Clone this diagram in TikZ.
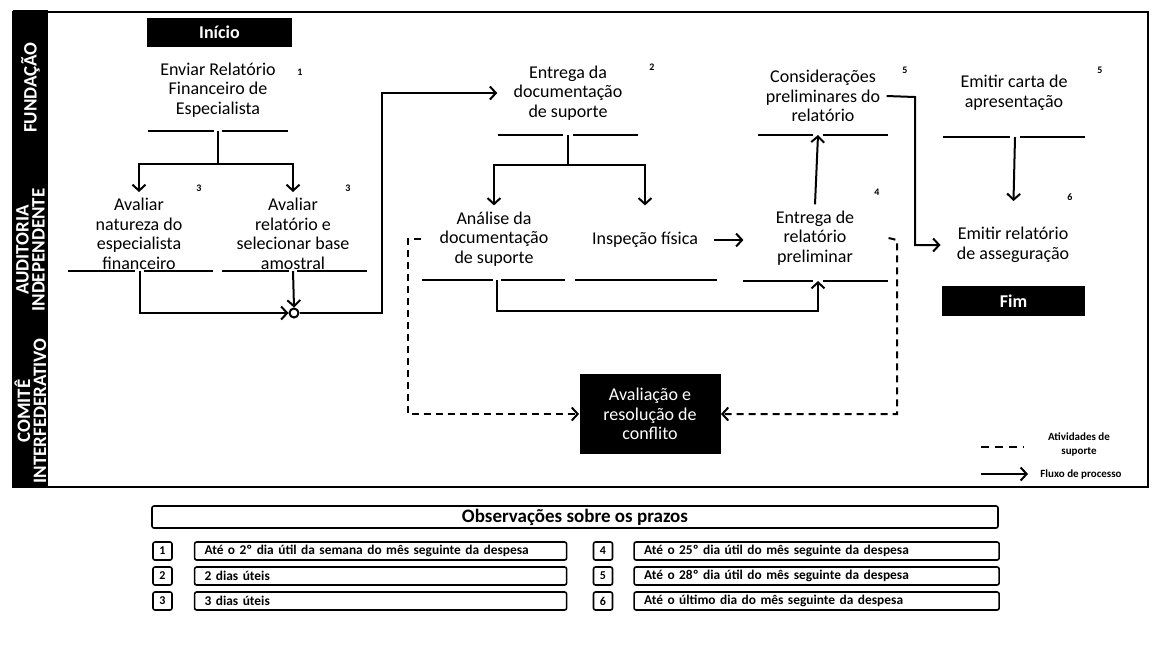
\documentclass[tikz,border=0pt]{standalone}
\usepackage{fontspec}
\setmainfont{Carlito}
\usetikzlibrary{arrows.meta,positioning}

\tikzset{
  >={Straight Barb[length=3pt,width=6.5pt]},
  task/.style={align=center, inner sep=3pt, font=\fontsize{9}{9.75}\selectfont},
  term/.style={fill=black, text=white, inner sep=0pt, font=\fontsize{9}{9.75}\selectfont\bfseries},
  lane/.style={rotate=90, fill=black, text=white, align=center, inner sep=0pt,
    minimum height=17.5pt, font=\fontsize{9.5}{8}\selectfont\bfseries},
  rule/.style={line width=1.2pt},
  flow/.style={line width=1pt, ->},
  supp/.style={line width=1pt, ->, dash pattern=on 3.5pt off 2.5pt},
  numtag/.style={inner sep=0pt, font=\fontsize{5}{5}\selectfont\bfseries},
  cell/.style={draw, line width=0.8pt, rounded corners=1pt, inner sep=0pt,
    minimum height=9pt, font=\fontsize{6.7}{7}\selectfont\bfseries},
  legtext/.style={align=center, inner sep=0pt, font=\fontsize{5.5}{7}\selectfont\bfseries}
}

\begin{document}
\begin{tikzpicture}[x=0.5pt,y=-0.5pt]
    \useasboundingbox (0,0) rectangle (1155,650);

    % frame and lanes
    \draw[line width=1.2pt] (13,12) rectangle (1148,487);
    \node[lane, minimum width=77.5pt] (fund) at (30.5,87.5) {FUNDAÇÃO};
    \node[lane, minimum width=85pt] (audit) at (30.5,250) {AUDITORIA\\INDEPENDENTE};
    \node[lane, minimum width=76pt] (comite) at (30.5,411) {COMITÊ\\INTERFEDERATIVO};

    % activities
    \node[term, minimum width=72.5pt, minimum height=14.5pt] (inicio) at (219.5,32.5) {Início};
    \node[task] (enviar) at (218,90) {Enviar Relatório\\Financeiro de\\Especialista};
    \node[task] (natureza) at (139,234) {Avaliar\\natureza do\\especialista\\financeiro};
    \node[task] (amostra) at (293,234) {Avaliar\\relatório e\\selecionar base\\amostral};
    \node[task] (entrega) at (568,93) {Entrega da\\documentação\\de suporte};
    \node[task] (analise) at (494,239) {Análise da\\documentação\\de suporte};
    \node[task] (inspecao) at (645,240) {Inspeção física};
    \node[task] (prelim) at (815,238) {Entrega de\\relatório\\preliminar};
    \node[task] (consid) at (823,96) {Considerações\\preliminares do\\relatório};
    \node[task] (carta) at (1014,93) {Emitir carta de\\apresentação};
    \node[task] (asseg) at (1013,245) {Emitir relatório\\de asseguração};
    \node[term, minimum width=71.5pt, minimum height=15pt] (fim) at (1013.5,301) {Fim};
    \node[term, minimum width=70.5pt, minimum height=40pt, align=center,
      font=\fontsize{9}{9.75}\selectfont] (aval) at (650,414) {Avaliação e\\resolução de\\conflito};

    % deadline marks
    \node[numtag] (t1) at (300,72) {1};
    \node[numtag] (t3a) at (199,188) {3};
    \node[numtag] (t3b) at (348,188) {3};
    \node[numtag] (t2) at (652,67) {2};
    \node[numtag] (t4) at (877,192) {4};
    \node[numtag] (t5a) at (905,70) {5};
    \node[numtag] (t5b) at (1100,70) {5};
    \node[numtag] (t6) at (1070,197) {6};

    % rules under the activities
    \draw[rule] (148,131) -- (214,131) (222,131) -- (288,131);
    \draw[rule] (68,271) -- (135,271) (144,271) -- (213,271);
    \draw[rule] (222,271) -- (289,271) (297,271) -- (367,271);
    \draw[rule] (498,135) -- (563,135) (573,135) -- (638,135);
    \draw[rule] (422,280) -- (493,280) (501,280) -- (565,280);
    \draw[rule] (575,280) -- (717,280);
    \draw[rule] (743,281) -- (813,281) (823,281) -- (888,281);
    \draw[rule] (758,135) -- (813,135) (823,135) -- (888,135);
    \draw[rule] (943,137) -- (1010,137) (1020,137) -- (1085,137);
    \coordinate (enviarB) at (218,131);
    \coordinate (natB) at (139.5,271);
    \coordinate (amoB) at (293,271);
    \coordinate (entB) at (568,135);
    \coordinate (anaB) at (497,280);
    \coordinate (prelB) at (818,281);
    \coordinate (considB) at (818,135);
    \coordinate (cartaB) at (1015,137);

    % process flow
    \node[draw, circle, line width=1pt, fill=white, minimum size=4.5pt, inner sep=0pt] (junc) at (294,313) {};
    \draw[line width=1pt] (enviarB) -- (218,164) coordinate (split1);
    \draw[flow] (split1) -| (natureza.north);
    \draw[flow] (split1) -| (amostra.north);
    \draw[flow] (natB) |- (junc.west);
    \draw[flow] (amoB) -- (junc.north);
    \draw[flow, shorten >=5pt] (junc.east) -- (382,313) |- (entrega.west);
    \draw[line width=1pt] (entB) -- (568,165) coordinate (split2);
    \draw[flow] (split2) -| (analise.north);
    \draw[flow] (split2) -| (inspecao.north |- analise.north);
    \draw[flow] (anaB) -- (497,311) -| (prelB);
    \draw[flow, shorten <=5pt, shorten >=13pt] (inspecao) -- (inspecao -| prelim.west);
    \draw[flow] (prelim.north) -- (considB);
    \draw[flow, shorten >=5pt] (consid.east) -- (915,97) |- (asseg.west);
    \draw[flow, shorten >=10pt] (cartaB) -- (asseg.north);

    % support activities
    \draw[supp] ([xshift=-6pt]analise.west) -- (408,239) |- (aval.west);
    \draw[supp] ([xshift=14pt]prelim.east) -- (897,240) |- (aval.east);

    % legend
    \node[legtext] (legsupp) at (1079,444) {Atividades de\\suporte};
    \node[legtext, anchor=west] (legflow) at (1040,474) {Fluxo de processo};
    \draw[line width=1pt, dash pattern=on 4pt off 3pt] (981,447) -- (1024,447);
    \draw[flow, shorten >=6pt] (981,474) -- (legflow.west);

    % deadlines table
    \node[cell, minimum width=423pt, minimum height=11pt,
      font=\fontsize{9.5}{10}\selectfont\bfseries] (obs) at (575,517) {Observações sobre os prazos};
    \node[cell, minimum width=9.5pt, font=\fontsize{6}{6}\selectfont\bfseries] (c1) at (162.5,551) {1};
    \node[cell, minimum width=9.5pt, font=\fontsize{6}{6}\selectfont\bfseries] (c2) at (162.5,576) {2};
    \node[cell, minimum width=9.5pt, font=\fontsize{6}{6}\selectfont\bfseries] (c3) at (162.5,601) {3};
    \node[cell, minimum width=9.5pt, font=\fontsize{6}{6}\selectfont\bfseries] (c4) at (603,551) {4};
    \node[cell, minimum width=9.5pt, font=\fontsize{6}{6}\selectfont\bfseries] (c5) at (603,576) {5};
    \node[cell, minimum width=9.5pt, font=\fontsize{6}{6}\selectfont\bfseries] (c6) at (603,601) {6};
    \node[cell, text width=176pt, inner xsep=5pt, align=left, right=10.5pt of c1] (p1) {Até o 2º dia útil da semana do mês seguinte da despesa};
    \node[cell, text width=176pt, inner xsep=5pt, align=left, right=10.5pt of c2] (p2) {2 dias úteis};
    \node[cell, text width=176pt, inner xsep=5pt, align=left, right=10.5pt of c3] (p3) {3 dias úteis};
    \node[cell, text width=172.5pt, inner xsep=5pt, align=left, right=10pt of c4] (p4) {Até o 25º dia útil do mês seguinte da despesa};
    \node[cell, text width=172.5pt, inner xsep=5pt, align=left, right=10pt of c5] (p5) {Até o 28º dia útil do mês seguinte da despesa};
    \node[cell, text width=172.5pt, inner xsep=5pt, align=left, right=10pt of c6] (p6) {Até o último dia do mês seguinte da despesa};
\end{tikzpicture}
\end{document}
